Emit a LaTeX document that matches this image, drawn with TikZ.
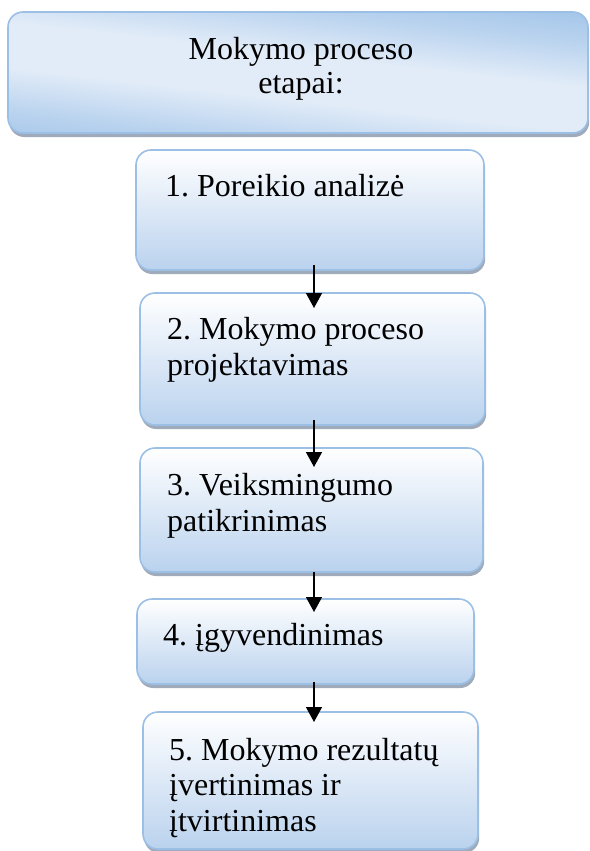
\documentclass[tikz,border=0pt]{standalone}
\usepackage{fontspec}
\setmainfont{Liberation Serif}
\frenchspacing
\usetikzlibrary{arrows.meta,shadows}

\definecolor{boxedge}{HTML}{9CC0E5}
\definecolor{boxlow}{HTML}{BAD2EE}
\definecolor{headdark}{HTML}{99BFE7}
\definecolor{headlight}{HTML}{E2ECF8}
\definecolor{shadowgray}{HTML}{8E9BAE}

% light band between two darker edges, used on the heading box
\pgfdeclareverticalshading{headband}{100bp}{%
  color(0bp)=(headdark); color(24bp)=(headdark);
  color(35bp)=(headdark!55!headlight);
  color(45bp)=(headlight); color(55bp)=(headlight);
  color(65bp)=(headdark!55!headlight);
  color(76bp)=(headdark); color(100bp)=(headdark)}

\tikzset{
  boxbase/.style={rounded corners=15pt, draw=boxedge, line width=1.6pt,
    inner sep=0pt, outer sep=0pt,
    drop shadow={shadow xshift=1.2pt, shadow yshift=-4pt, fill=shadowgray, opacity=0.85}},
  stepbox/.style={boxbase, top color=white, bottom color=boxlow},
  headbox/.style={boxbase, fill=headdark,
    path picture={\shade[shading=headband,
        transform canvas={rotate around={-6.5:([yshift=-5pt]path picture bounding box.center)}}]
        ([shift={(-360,-105)}]path picture bounding box.center) rectangle
        ([shift={(360,115)}]path picture bounding box.center);}},
  label/.style={inner sep=0pt, anchor=base west, align=left,
    font=\fontsize{32}{36}\selectfont},
  arr/.style={line width=1.5pt, -{Triangle[length=15pt,width=16pt]}}
}

\begin{document}
\begin{tikzpicture}[x=1pt, y=-1pt]
\useasboundingbox (0,0) rectangle (589,851);

% boxes
\node[headbox, minimum width=580pt, minimum height=121pt] (head) at (298,72.5) {};
\node[stepbox, minimum width=348pt, minimum height=120pt] (s1) at (310,210) {};
\node[stepbox, minimum width=345pt, minimum height=132pt] (s2) at (312.5,359) {};
\node[stepbox, minimum width=343pt, minimum height=124pt] (s3) at (311.5,510) {};
\node[stepbox, minimum width=337pt, minimum height=85pt] (s4) at (305.5,641.5) {};
\node[stepbox, minimum width=335pt, minimum height=137pt] (s5) at (310.5,780.5) {};

% texts (multi-line nodes are placed at the baseline of their last line)
\node[inner sep=0pt, anchor=base, align=center,
  font=\fontsize{32}{34}\selectfont] (headtext) at (301,93) {Mokymo proceso\\etapai:};
\node[label] (t1) at (165,196) {1. Poreikio analizė};
\node[label] (t2) at (167,375) {2. Mokymo proceso\\projektavimas};
\node[label] (t3) at (167,531) {3. Veiksmingumo\\patikrinimas};
\node[label] (t4) at (163,645) {4. įgyvendinimas};
\node[label, font=\fontsize{32}{35.5}\selectfont] (t5) at (169,831)
  {5. Mokymo rezultatų\\įvertinimas ir\\įtvirtinimas};

% arrows between the steps
\coordinate (ax) at (314,0);
\draw[arr] ([yshift=5pt]s1.south -| ax) -- ([yshift=-15pt]s2.north -| ax);
\draw[arr] ([yshift=5pt]s2.south -| ax) -- ([yshift=-19pt]s3.north -| ax);
\draw[arr] ([yshift=0pt]s3.south -| ax) -- ([yshift=-13pt]s4.north -| ax);
\draw[arr] ([yshift=2pt]s4.south -| ax) -- ([yshift=-10pt]s5.north -| ax);
\end{tikzpicture}
\end{document}
